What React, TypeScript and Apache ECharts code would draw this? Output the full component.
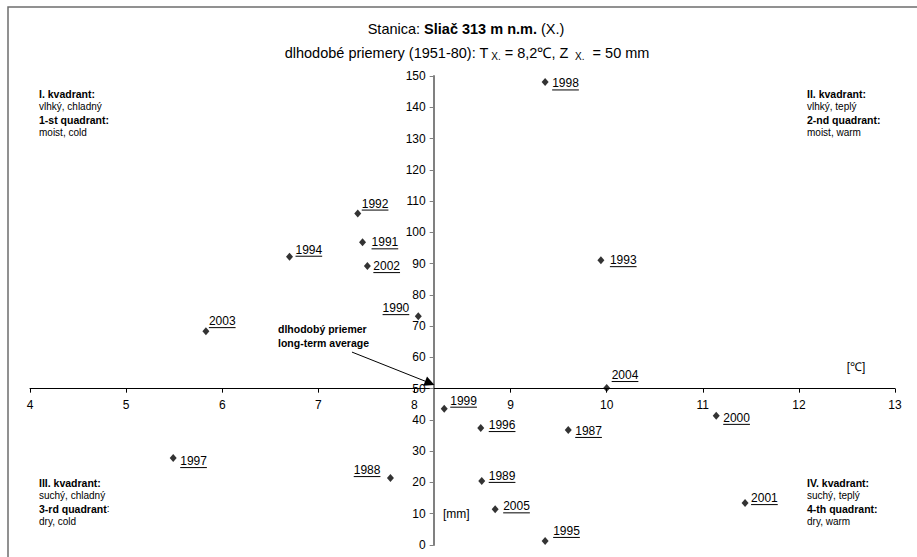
import React, { useEffect, useRef } from "react";
import * as echarts from "echarts";

// October values, station Sliač (313 m a.s.l.)
const years = [1987, 1988, 1989, 1990, 1991, 1992, 1993, 1994, 1995, 1996, 1997, 1998, 1999, 2000, 2001, 2002, 2003, 2004, 2005];
const temperatures = [9.6, 7.75, 8.7, 8.04, 7.46, 7.41, 9.94, 6.7, 9.36, 8.69, 5.49, 9.36, 8.31, 11.14, 11.44, 7.51, 5.83, 10.0, 8.84];
const precipitation = [36.8, 21.4, 20.5, 73.2, 96.8, 106, 91.1, 92.2, 1.3, 37.4, 27.8, 148.1, 43.6, 41.3, 13.4, 89.2, 68.4, 50.2, 11.4];

// label placement relative to each point [dx, dy] in px; negative dx puts the label on the left
const labelOffsets: [number, number][] = [
  [7, 1], [-10, -8], [7, -5], [-9, -8], [9, 0], [4, -10], [9, 0], [6, -7], [8, -10], [8, -3],
  [7, 3], [7, 1.5], [6, -8], [7, 2], [6, -5], [6, 0], [3, -10], [5, -13], [8, -3],
];

// long-term averages (1951-80)
const longTermTemp = 8.2;
const longTermPrecip = 50;

const X_MIN = 4, X_MAX = 13, X_STEP = 1;
const Y_MIN = 0, Y_MAX = 150, Y_STEP = 10;

const W = 917, H = 557;
const GRID = { left: 30, right: 22, top: 76, bottom: 12 };
const FONT = '"Liberation Sans", Arial, Helvetica, sans-serif';

function measure(text: string, font: string): number {
  try {
    const ctx = document.createElement("canvas").getContext("2d");
    if (ctx) {
      ctx.font = font;
      return ctx.measureText(text).width;
    }
  } catch (e) {
    /* ignore */
  }
  return text.length * 6.7;
}

export default function App() {
  const ref = useRef<HTMLDivElement>(null);

  useEffect(() => {
    if (!ref.current) return;
    const chart = echarts.init(ref.current, undefined, { renderer: "svg" });

    const gridW = W - GRID.left - GRID.right;
    const gridH = H - GRID.top - GRID.bottom;
    // axes cross at the long-term averages
    const yAxisOffset = -((longTermTemp - X_MIN) / (X_MAX - X_MIN)) * gridW;
    const xAxisOffset = -((longTermPrecip - Y_MIN) / (Y_MAX - Y_MIN)) * gridH;

    const points = years.map((_, i) => [temperatures[i], precipitation[i]]);
    const labelFont = `12px ${FONT}`;

    const quadRich = {
      b: { fontFamily: FONT, fontSize: 10.5, fontWeight: "bold" as const, lineHeight: 12.8, fill: "#000" },
      n: { fontFamily: FONT, fontSize: 10, lineHeight: 12.8, fill: "#000" },
    };

    const option: any = {
      animation: false,
      backgroundColor: "#fff",
      textStyle: { fontFamily: FONT },
      grid: { ...GRID, outerBoundsMode: "none", containLabel: false },
      xAxis: {
        type: "value",
        min: X_MIN,
        max: X_MAX,
        interval: X_STEP,
        position: "bottom",
        offset: xAxisOffset,
        axisLine: { show: true, onZero: false, lineStyle: { color: "#000", width: 1 } },
        axisTick: { show: true, length: 4, lineStyle: { color: "#000" } },
        axisLabel: { color: "#000", fontSize: 12, fontFamily: FONT, margin: 10 },
        splitLine: { show: false },
      },
      yAxis: {
        type: "value",
        min: Y_MIN,
        max: Y_MAX,
        interval: Y_STEP,
        position: "left",
        offset: yAxisOffset,
        axisLine: { show: true, onZero: false, lineStyle: { color: "#808080", width: 2 } },
        axisTick: { show: true, length: 4, lineStyle: { color: "#808080" } },
        axisLabel: { color: "#000", fontSize: 12, fontFamily: FONT, margin: 8 },
        splitLine: { show: false },
      },
      series: [
        {
          type: "scatter",
          data: points,
          symbol: "diamond",
          symbolSize: [7, 8],
          itemStyle: { color: "#000" },
          z: 3,
          markLine: {
            silent: true,
            symbol: ["none", "triangle"],
            symbolSize: 10,
            label: { show: false },
            lineStyle: { color: "#000", width: 1, type: "solid" },
            itemStyle: { color: "#000" },
            data: [[{ coord: [7.35, 61.7] }, { coord: [longTermTemp - 0.04, longTermPrecip + 1.8] }]],
          },
        },
        {
          type: "custom",
          data: points,
          z: 4,
          renderItem: (params: any, api: any) => {
            const i = params.dataIndex;
            const p = api.coord([api.value(0), api.value(1)]);
            const [dx, dy] = labelOffsets[i];
            const text = String(years[i]);
            const w = measure(text, labelFont);
            const left = dx >= 0 ? p[0] + dx : p[0] + dx - w;
            const cy = p[1] + dy;
            return {
              type: "group",
              children: [
                {
                  type: "text",
                  x: left,
                  y: cy,
                  style: { text, fontSize: 12, fontFamily: FONT, fill: "#000", align: "left", verticalAlign: "middle" },
                },
                {
                  type: "line",
                  shape: { x1: left, y1: cy + 6.5, x2: left + w, y2: cy + 6.5 },
                  style: { stroke: "#000", lineWidth: 1 },
                },
              ],
            };
          },
        },
      ],
      graphic: [
        {
          type: "rect",
          shape: { x: 8, y: 7, width: 1000, height: 1000 },
          style: { fill: "none", stroke: "#6e6e6e", lineWidth: 1.5 },
          silent: true,
        },
        {
          type: "text",
          x: 466,
          y: 29,
          style: {
            text: "Stanica: {b|Sliač 313 m n.m.} (X.)",
            fontFamily: FONT,
            fontSize: 14.5,
            fill: "#000",
            align: "center",
            verticalAlign: "middle",
            rich: { b: { fontFamily: FONT, fontSize: 14.5, fontWeight: "bold", fill: "#000" } },
          },
        },
        {
          type: "text",
          x: 467,
          y: 53,
          style: {
            text: "dlhodobé priemery (1951-80): T{s| X.} = 8,2℃, Z {s| X.}  = 50 mm",
            fontFamily: FONT,
            fontSize: 14.5,
            fill: "#000",
            align: "center",
            verticalAlign: "middle",
            rich: { s: { fontFamily: FONT, fontSize: 10, fill: "#000", padding: [6, 0, 0, 0] } },
          },
        },
        {
          type: "text",
          x: 39,
          y: 87.5,
          style: {
            text: "{b|I. kvadrant:}\n{n|vlhký, chladný}\n{b|1-st quadrant:}\n{n|moist, cold}",
            rich: quadRich,
            verticalAlign: "top",
          },
        },
        {
          type: "text",
          x: 807,
          y: 87.5,
          style: {
            text: "{b|II. kvadrant:}\n{n|vlhký, teplý}\n{b|2-nd quadrant:}\n{n|moist, warm}",
            rich: quadRich,
            verticalAlign: "top",
          },
        },
        {
          type: "text",
          x: 39,
          y: 476.5,
          style: {
            text: "{b|III. kvadrant:}\n{n|suchý, chladný}\n{b|3-rd quadrant}{n|:}\n{n|dry, cold}",
            rich: quadRich,
            verticalAlign: "top",
          },
        },
        {
          type: "text",
          x: 807,
          y: 476.5,
          style: {
            text: "{b|IV. kvadrant:}\n{n|suchý, teplý}\n{b|4-th quadrant:}\n{n|dry, warm}",
            rich: quadRich,
            verticalAlign: "top",
          },
        },
        {
          type: "text",
          x: 278,
          y: 322,
          style: {
            text: "dlhodobý priemer\nlong-term average",
            fontFamily: FONT,
            fontSize: 10.5,
            fontWeight: "bold",
            lineHeight: 14,
            fill: "#000",
            verticalAlign: "top",
          },
        },
        {
          type: "text",
          x: 856,
          y: 367,
          style: { text: "[℃]", fontFamily: FONT, fontSize: 12, fill: "#000", align: "center", verticalAlign: "middle" },
        },
        {
          type: "text",
          x: 443,
          y: 514,
          style: { text: "[mm]", fontFamily: FONT, fontSize: 12, fill: "#000", align: "left", verticalAlign: "middle" },
        },
      ],
    };

    chart.setOption(option);
    return () => chart.dispose();
  }, []);

  return (
    <div
      ref={ref}
      style={{ position: "absolute", left: 0, top: 0, width: W, height: H, background: "#fff" }}
    />
  );
}
